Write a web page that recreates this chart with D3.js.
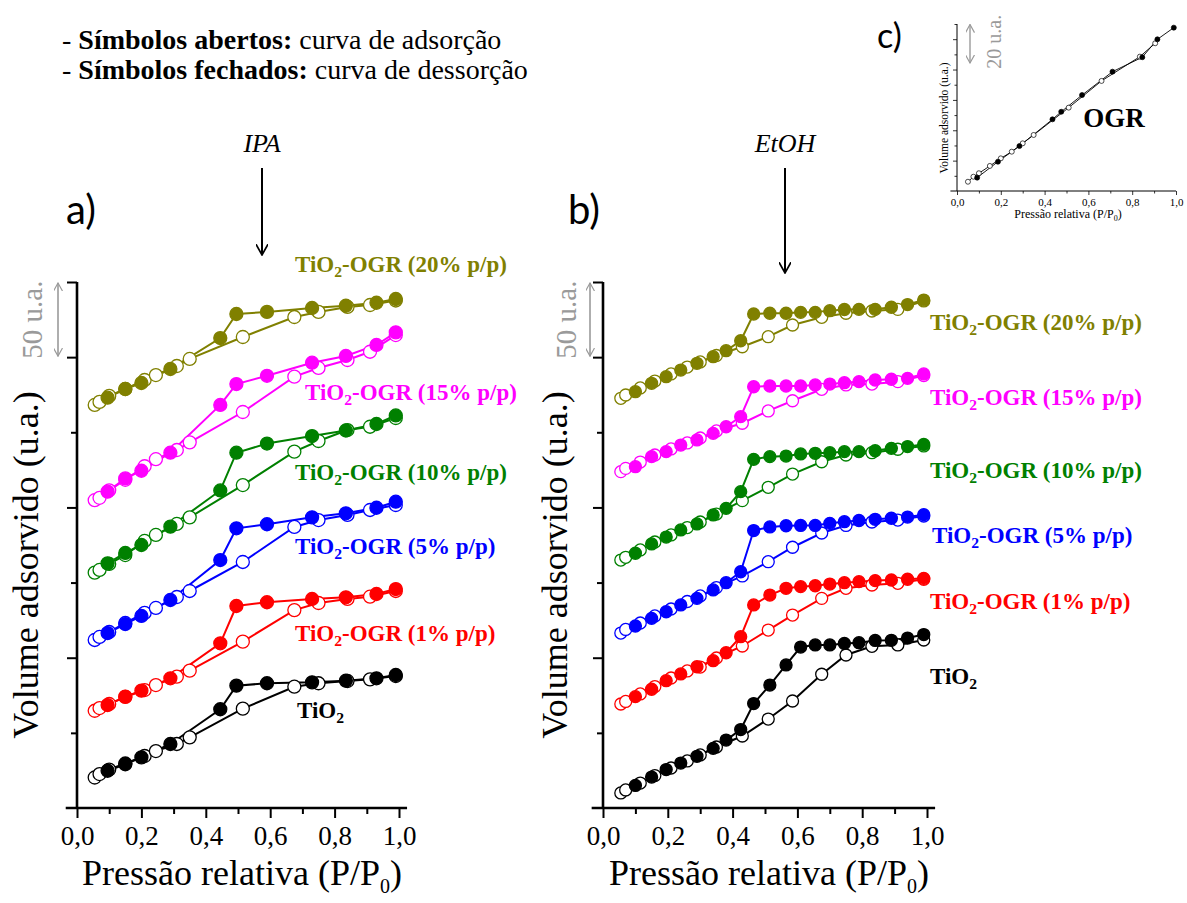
<!DOCTYPE html>
<html><head><meta charset="utf-8">
<script src="https://cdn.jsdelivr.net/npm/d3@7"></script>
<style>body{margin:0;background:#fff}svg{display:block}</style>
</head><body>
<svg id="fig" width="1187" height="903"></svg>
<script>
// ---- relative pressure grids (P/P0) ----
const ipaAdsP = [0.055, 0.07, 0.10, 0.15, 0.21, 0.245, 0.31, 0.35, 0.515, 0.675, 0.75, 0.84, 0.91, 0.99];
const ipaDesP = [0.99, 0.93, 0.835, 0.73, 0.59, 0.495, 0.445, 0.29, 0.20, 0.15, 0.095];
const etohAdsP = [0.055, 0.07, 0.115, 0.16, 0.21, 0.26, 0.30, 0.35, 0.43, 0.51, 0.585, 0.675, 0.75, 0.83, 0.91, 0.99];
const etohDesP = [0.99, 0.94, 0.89, 0.84, 0.79, 0.745, 0.70, 0.655, 0.61, 0.565, 0.515, 0.465, 0.425, 0.38, 0.34, 0.29, 0.24, 0.195, 0.15, 0.10];

// ---- IPA isotherms (stacked, u.a.) ----
const ipaTiO2Ads = [20.3, 22.6, 25.6, 29.6, 34.6, 37.9, 42.6, 47.0, 66.1, 80.7, 83.0, 84.5, 85.6, 87.8];
const ipaTiO2Des = [88.5, 86.3, 84.7, 83.6, 83.0, 81.4, 65.7, 42.6, 33.7, 29.1, 24.8];
const ipaOgr1Ads = [64.7, 66.5, 69.2, 73.9, 78.5, 81.8, 87.4, 91.4, 110.7, 131.7, 136.4, 139.1, 140.6, 144.4];
const ipaOgr1Des = [145.7, 142.4, 140.2, 139.1, 136.9, 134.4, 109.6, 86.3, 78.1, 74.1, 68.5];
const ipaOgr5Ads = [111.8, 113.8, 117.1, 123.1, 129.8, 133.1, 140.4, 144.4, 163.7, 187.0, 191.6, 195.0, 198.3, 201.6];
const ipaOgr5Des = [203.8, 199.8, 196.1, 193.4, 188.8, 186.1, 165.0, 138.4, 127.8, 122.4, 116.4];
const ipaOgr10Ads = [156.6, 158.4, 162.4, 168.3, 177.7, 181.7, 189.0, 193.4, 214.9, 237.1, 244.2, 251.5, 253.7, 259.5];
const ipaOgr10Des = [261.2, 255.5, 251.2, 247.5, 242.5, 236.4, 211.3, 187.2, 175.0, 169.7, 162.8];
const ipaOgr15Ads = [204.8, 206.4, 211.4, 218.4, 227.4, 232.1, 238.2, 243.3, 263.5, 287.0, 292.8, 298.1, 303.6, 314.7];
const ipaOgr15Des = [316.5, 308.1, 300.8, 296.3, 287.6, 282.1, 268.2, 236.4, 224.4, 219.3, 210.5];
const ipaOgr20Ads = [268.2, 270.2, 274.2, 278.8, 284.8, 288.1, 294.1, 298.8, 313.4, 326.7, 330.1, 333.4, 334.7, 337.7];
const ipaOgr20Des = [338.7, 336.2, 334.2, 332.7, 330.1, 328.7, 312.7, 292.1, 282.8, 278.8, 273.0];

// ---- EtOH isotherms (stacked, u.a.) ----
const etohTiO2Ads = [10.0, 12.0, 16.6, 21.6, 26.6, 31.3, 35.3, 40.6, 47.9, 59.2, 71.2, 89.0, 101.8, 107.6, 108.5, 111.8];
const etohTiO2Des = [115.4, 113.1, 111.6, 111.5, 110.0, 109.5, 108.5, 108.5, 107.1, 95.2, 81.8, 69.5, 52.2, 45.2, 39.7, 34.4, 29.9, 25.6, 20.6, 15.0];
const etohOgr1Ads = [69.2, 70.9, 75.9, 80.8, 86.5, 91.2, 93.8, 99.8, 107.8, 118.4, 128.4, 139.5, 146.2, 148.4, 149.5, 152.2];
const etohOgr1Des = [152.8, 152.2, 151.7, 151.3, 150.6, 149.9, 149.0, 147.9, 147.3, 146.2, 141.7, 135.1, 114.0, 103.3, 98.0, 94.0, 89.2, 84.7, 79.0, 74.1];
const etohOgr5Ads = [116.4, 118.8, 123.1, 127.8, 132.4, 137.4, 141.1, 146.7, 154.4, 163.9, 173.5, 183.0, 188.0, 190.3, 191.6, 194.3];
const etohOgr5Des = [195.2, 193.6, 192.8, 192.1, 191.3, 190.5, 189.4, 188.0, 188.0, 187.8, 187.0, 184.6, 157.2, 149.9, 145.1, 139.5, 135.1, 130.6, 126.2, 121.1];
const etohOgr10Ads = [165.0, 166.8, 171.7, 177.0, 181.7, 186.6, 190.3, 195.6, 204.5, 213.4, 222.2, 230.4, 234.9, 236.4, 238.7, 240.9];
const etohOgr10Des = [241.9, 240.5, 239.3, 237.7, 237.1, 237.1, 236.4, 236.0, 235.6, 234.2, 233.8, 232.0, 210.5, 199.4, 195.0, 189.0, 185.0, 180.3, 175.7, 169.5];
const etohOgr15Ads = [223.8, 226.0, 230.2, 234.9, 238.9, 242.9, 246.2, 250.9, 256.0, 264.2, 271.0, 278.6, 281.5, 282.1, 283.7, 287.8];
const etohOgr15Des = [288.8, 285.9, 285.3, 284.8, 283.7, 283.0, 282.1, 281.5, 280.8, 280.8, 280.8, 280.3, 260.4, 253.7, 249.3, 244.9, 241.5, 237.1, 233.8, 227.1];
const etohOgr20Ads = [272.6, 274.8, 279.5, 284.1, 288.8, 293.4, 296.8, 301.1, 306.9, 313.6, 321.4, 326.5, 329.2, 330.7, 331.8, 337.4];
const etohOgr20Des = [338.0, 335.0, 333.2, 331.8, 331.8, 331.7, 330.9, 329.8, 329.8, 329.2, 329.2, 328.7, 310.9, 304.3, 300.3, 295.9, 291.4, 287.0, 282.6, 277.0];

// ---- OGR alone (inset) ----
const ogrAdsP = [0.05, 0.075, 0.10, 0.15, 0.20, 0.25, 0.30, 0.35, 0.51, 0.66, 0.835, 0.905];
const ogrAds = [6.1, 9.4, 11.7, 16.5, 21.5, 25.9, 31.4, 36.9, 54.9, 72.5, 88.5, 97.3];
const ogrDesP = [0.99, 0.915, 0.846, 0.71, 0.571, 0.476, 0.436, 0.285, 0.187, 0.092];
const ogrDes = [107.6, 99.9, 88.1, 78.6, 63.2, 52.2, 47.2, 29.6, 19.3, 8.8];

// ---- labels and colours ----
const sampleNames = ["TiO2", "TiO2-OGR (1% p/p)", "TiO2-OGR (5% p/p)", "TiO2-OGR (10% p/p)", "TiO2-OGR (15% p/p)", "TiO2-OGR (20% p/p)"];
const sampleColors = ["#000000", "#ff0000", "#0000ff", "#008000", "#ff00ff", "#808000"];
const xTickLabels = ["0,0", "0,2", "0,4", "0,6", "0,8", "1,0"];

const serif = "'Liberation Serif', 'Times New Roman', serif";
const svg = d3.select("#fig");

// ---- helpers ----
function subLabel(sel, name, size) {
  // writes "TiO2..." with the 2 as subscript
  const m = name.match(/^(TiO)2(.*)$/);
  sel.append("tspan").text(m[1]);
  sel.append("tspan").attr("font-size", size * 0.68).attr("dy", size * 0.22).text("2");
  if (m[2]) sel.append("tspan").attr("dy", -size * 0.22).text(m[2]);
}

function drawAxes(g, x, y, opt) {
  const axisCol = "#000";
  g.append("line").attr("x1", x(0)).attr("x2", x(0))
    .attr("y1", y(0)).attr("y2", y(opt.yMax))
    .attr("stroke", axisCol).attr("stroke-width", opt.axisW);
  g.append("line").attr("x1", x(opt.xLo)).attr("x2", x(opt.xHi))
    .attr("y1", y(0)).attr("y2", y(0))
    .attr("stroke", axisCol).attr("stroke-width", opt.axisW);

  const yMajor = g.append("g").attr("transform", `translate(${x(0)},0)`)
    .call(d3.axisLeft(y).tickValues(opt.yMajor).tickSize(opt.tickL).tickFormat(""));
  const yMinor = g.append("g").attr("transform", `translate(${x(0)},0)`)
    .call(d3.axisLeft(y).tickValues(opt.yMinor).tickSize(opt.tickS).tickFormat(""));
  const xMinor = g.append("g").attr("transform", `translate(0,${y(0)})`)
    .call(d3.axisBottom(x).tickValues(opt.xMinor).tickSize(opt.tickS).tickFormat(""));
  const xMajor = g.append("g").attr("transform", `translate(0,${y(0)})`)
    .call(d3.axisBottom(x).tickValues(d3.range(0, 1.01, 0.2)).tickSize(opt.tickL)
      .tickPadding(opt.pad).tickFormat((d, i) => xTickLabels[i]));
  [yMajor, yMinor, xMinor, xMajor].forEach(a => {
    a.select(".domain").remove();
    a.selectAll(".tick line").attr("stroke", axisCol).attr("stroke-width", opt.tickW);
  });
  xMajor.selectAll(".tick text").attr("font-family", serif)
    .attr("font-size", opt.tickFont).attr("fill", "#000");
}

function drawCurve(g, x, y, ps, vs, color, lw) {
  const pts = ps.map((p, i) => [p, vs[i]]);
  g.append("path").datum(pts)
    .attr("d", d3.line().x(d => x(d[0])).y(d => y(d[1])))
    .attr("fill", "none").attr("stroke", color).attr("stroke-width", lw);
  return pts;
}

function drawMarks(g, x, y, pts, color, filled, r, sw) {
  g.selectAll(null).data(pts).join("circle")
    .attr("cx", d => x(d[0])).attr("cy", d => y(d[1])).attr("r", r)
    .attr("fill", filled ? color : "#fff")
    .attr("stroke", color).attr("stroke-width", sw);
}

function drawPanel(cfg) {
  const g = svg.append("g");
  const x = d3.scaleLinear().domain([0, 1]).range(cfg.xRange);
  const y = d3.scaleLinear().domain([0, 350]).range([808, 282]);
  drawAxes(g, x, y, {
    yMax: 350, xLo: -0.035, xHi: 1.025, axisW: 2.6, tickW: 2,
    yMajor: [100, 200, 300, 350], yMinor: [50, 150, 250],
    xMinor: d3.range(0.1, 1.0, 0.2), tickL: 10, tickS: 6, pad: 8, tickFont: 27
  });
  cfg.series.forEach((s, i) => {
    const col = sampleColors[i];
    const a = drawCurve(g, x, y, cfg.adsP, s[0], col, 2);
    const d = drawCurve(g, x, y, cfg.desP, s[1], col, 2);
    drawMarks(g, x, y, a, col, false, cfg.r, 1.3);
    drawMarks(g, x, y, d, col, true, cfg.r, 1.3);
  });
  // sample labels
  cfg.labelPos.forEach((lp, i) => {
    const t = g.append("text").attr("x", lp[0]).attr("y", lp[1])
      .attr("font-family", serif).attr("font-weight", "bold")
      .attr("font-size", 23).attr("fill", sampleColors[i]);
    subLabel(t, sampleNames[i], 23);
  });
  // 50 u.a. scale bar
  const sx = cfg.barX;
  g.append("line").attr("x1", sx).attr("x2", sx).attr("y1", y(350) + 1).attr("y2", y(300) - 1)
    .attr("stroke", "#9a9a9a").attr("stroke-width", 1.6)
    .attr("marker-start", "url(#grayHead)").attr("marker-end", "url(#grayHead)");
  g.append("text").attr("transform", `translate(${cfg.barTextX},${(y(350) + y(300)) / 2}) rotate(-90)`)
    .attr("text-anchor", "middle").attr("font-family", serif).attr("font-size", 29)
    .attr("fill", "#9a9a9a").text("50 u.a.");
  // y title
  g.append("text").attr("transform", `translate(${cfg.yTitleX},565) rotate(-90)`)
    .attr("text-anchor", "middle").attr("font-family", serif).attr("font-size", 36)
    .attr("fill", "#000").text("Volume adsorvido (u.a.)");
  // x title
  const xt = g.append("text").attr("x", (cfg.xRange[0] + cfg.xRange[1]) / 2 + 4).attr("y", 885)
    .attr("text-anchor", "middle").attr("font-family", serif).attr("font-size", 36).attr("fill", "#000");
  xt.append("tspan").text("Pressão relativa (P/P");
  xt.append("tspan").attr("font-size", 20).attr("dy", 8).text("0");
  xt.append("tspan").attr("dy", -8).text(")");
  // panel letter
  svg.append("text").attr("x", cfg.letter[0]).attr("y", cfg.letter[1])
    .attr("font-family", "Lato, 'Open Sans', sans-serif").attr("font-size", 40)
    .attr("fill", "#000").text(cfg.letter[2]);
  // solvent
  svg.append("text").attr("x", cfg.solvent[0]).attr("y", 152).attr("text-anchor", "middle")
    .attr("font-family", serif).attr("font-style", "italic").attr("font-size", 26)
    .attr("fill", "#000").text(cfg.solvent[1]);
  svg.append("line").attr("x1", cfg.solvent[0]).attr("x2", cfg.solvent[0])
    .attr("y1", 168).attr("y2", cfg.solvent[2])
    .attr("stroke", "#000").attr("stroke-width", 2).attr("marker-end", "url(#blackHead)");
}

// arrow heads
const defs = svg.append("defs");
defs.append("marker").attr("id", "grayHead").attr("viewBox", "0 0 10 10").attr("refX", 9).attr("refY", 5)
  .attr("markerWidth", 9).attr("markerHeight", 9).attr("markerUnits", "userSpaceOnUse").attr("orient", "auto-start-reverse")
  .append("path").attr("d", "M0,0 L9,5 L0,10").attr("fill", "none").attr("stroke", "#9a9a9a").attr("stroke-width", 1.3);
defs.append("marker").attr("id", "blackHead").attr("viewBox", "0 0 10 10").attr("refX", 9).attr("refY", 5)
  .attr("markerWidth", 12).attr("markerHeight", 12).attr("markerUnits", "userSpaceOnUse").attr("orient", "auto")
  .append("path").attr("d", "M0,0 L9,5 L0,10").attr("fill", "none").attr("stroke", "#000").attr("stroke-width", 1.4);

// legend about symbols
const leg = svg.append("g").attr("font-family", serif).attr("font-size", 28).attr("fill", "#000");
const l1 = leg.append("text").attr("x", 62).attr("y", 49);
l1.append("tspan").text("- ");
l1.append("tspan").attr("font-weight", "bold").text("Símbolos abertos:");
l1.append("tspan").text(" curva de adsorção");
const l2 = leg.append("text").attr("x", 62).attr("y", 79);
l2.append("tspan").text("- ");
l2.append("tspan").attr("font-weight", "bold").text("Símbolos fechados:");
l2.append("tspan").text(" curva de dessorção");

drawPanel({
  xRange: [77, 399], adsP: ipaAdsP, desP: ipaDesP, r: 6.5,
  series: [[ipaTiO2Ads, ipaTiO2Des], [ipaOgr1Ads, ipaOgr1Des], [ipaOgr5Ads, ipaOgr5Des],
           [ipaOgr10Ads, ipaOgr10Des], [ipaOgr15Ads, ipaOgr15Des], [ipaOgr20Ads, ipaOgr20Des]],
  labelPos: [[297, 718], [295, 641], [295, 554], [295, 480], [305, 400], [295, 272]],
  barX: 58, barTextX: 42, yTitleX: 38, letter: [66, 224, "a)"], solvent: [262, "IPA", 255]
});
drawPanel({
  xRange: [603, 927], adsP: etohAdsP, desP: etohDesP, r: 6,
  series: [[etohTiO2Ads, etohTiO2Des], [etohOgr1Ads, etohOgr1Des], [etohOgr5Ads, etohOgr5Des],
           [etohOgr10Ads, etohOgr10Des], [etohOgr15Ads, etohOgr15Des], [etohOgr20Ads, etohOgr20Des]],
  labelPos: [[930, 684], [930, 609], [932, 543], [930, 478], [930, 405], [930, 330]],
  barX: 590, barTextX: 576, yTitleX: 567, letter: [568, 224, "b)"], solvent: [785, "EtOH", 273]
});

// ---- inset c) : OGR ----
(function () {
  const g = svg.append("g");
  const x = d3.scaleLinear().domain([0, 1]).range([957, 1176]);
  const y = d3.scaleLinear().domain([0, 110]).range([191, 24]);
  drawAxes(g, x, y, {
    yMax: 110, xLo: -0.03, xHi: 1.0, axisW: 1, tickW: 0.8,
    yMajor: [20, 40, 60, 80, 100], yMinor: [10, 30, 50, 70, 90, 110],
    xMinor: d3.range(0.1, 1.0, 0.2), tickL: 4, tickS: 2.5, pad: 3, tickFont: 11
  });
  const a = drawCurve(g, x, y, ogrAdsP, ogrAds, "#000", 0.9);
  const d = drawCurve(g, x, y, ogrDesP, ogrDes, "#000", 0.9);
  drawMarks(g, x, y, a, "#000", false, 2.5, 0.7);
  drawMarks(g, x, y, d, "#000", true, 2.5, 0.7);
  g.append("text").attr("x", 1114).attr("y", 127).attr("text-anchor", "middle")
    .attr("font-family", serif).attr("font-weight", "bold").attr("font-size", 27).text("OGR");
  g.append("text").attr("transform", "translate(948,118) rotate(-90)").attr("text-anchor", "middle")
    .attr("font-family", serif).attr("font-size", 11.5).text("Volume adsorvido (u.a.)");
  const xt = g.append("text").attr("x", 1068).attr("y", 218).attr("text-anchor", "middle")
    .attr("font-family", serif).attr("font-size", 12);
  xt.append("tspan").text("Pressão relativa (P/P");
  xt.append("tspan").attr("font-size", 8).attr("dy", 3).text("0");
  xt.append("tspan").attr("dy", -3).text(")");
  g.append("line").attr("x1", 970).attr("x2", 970).attr("y1", y(110) + 0.5).attr("y2", y(84) - 0.5)
    .attr("stroke", "#9a9a9a").attr("stroke-width", 1.4)
    .attr("marker-start", "url(#grayHead)").attr("marker-end", "url(#grayHead)");
  g.append("text").attr("transform", `translate(1001,${(y(110) + y(84)) / 2 - 2}) rotate(-90)`)
    .attr("text-anchor", "middle").attr("font-family", serif).attr("font-size", 20)
    .attr("fill", "#9a9a9a").text("20 u.a.");
  svg.append("text").attr("x", 877).attr("y", 48)
    .attr("font-family", "Lato, 'Open Sans', sans-serif").attr("font-size", 34).text("c)");
})();
</script>
</body></html>
